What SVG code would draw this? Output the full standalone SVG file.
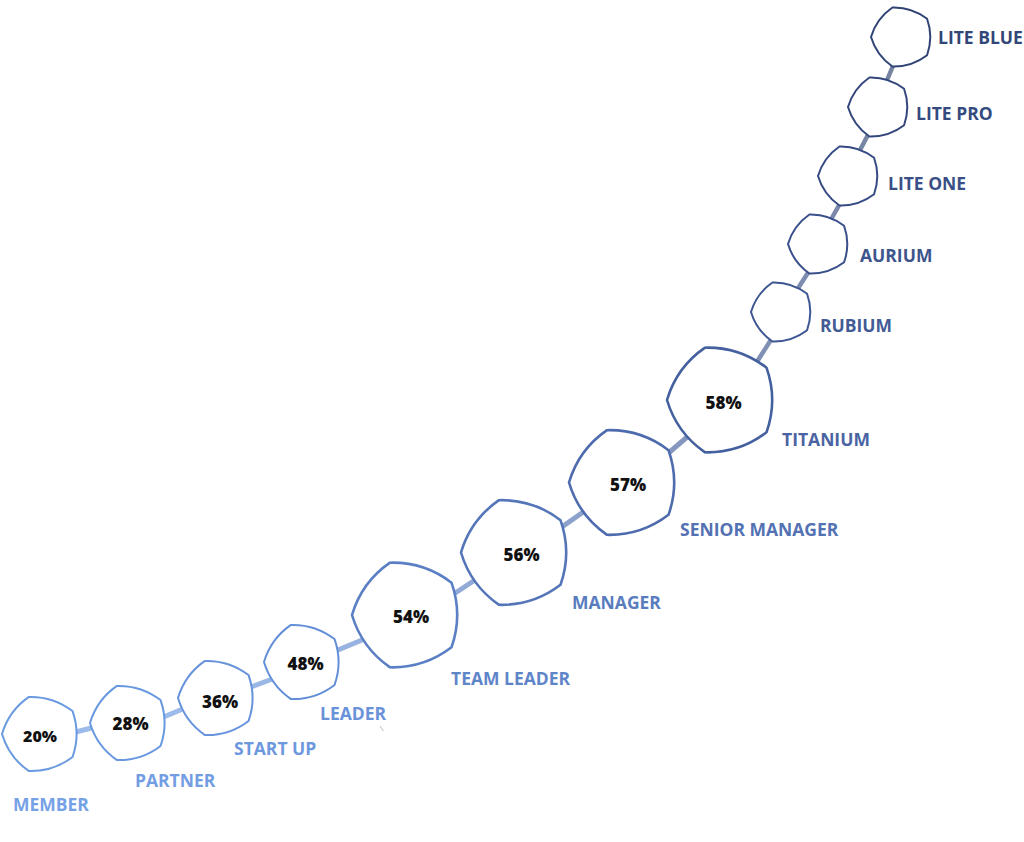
<svg xmlns="http://www.w3.org/2000/svg" xmlns:xlink="http://www.w3.org/1999/xlink" width="1024" height="842" viewBox="0 0 1024 842">
<style>
.n{fill:#fff;stroke-linejoin:round}
.s{stroke-width:2}
.b{stroke-width:2.6}
.pct{font-family:"Open Sans","Liberation Sans",sans-serif;font-weight:800;fill:#111;text-anchor:middle}
.lbl{font-family:"Open Sans","Liberation Sans",sans-serif;font-weight:700;font-size:17.5px}
.c{fill:none;stroke-linecap:butt}
</style>
<defs>
<path id="p39" d="M-39,0 A68.8,68.8 0 0 1 -12.05,-37.09 A68.8,68.8 0 0 1 31.55,-22.93 A68.8,68.8 0 0 1 31.55,22.93 A68.8,68.8 0 0 1 -12.05,37.09 A68.8,68.8 0 0 1 -39,0 Z"/>
<path id="p55" d="M-55,0 A97,97 0 0 1 -17,-52.31 A97,97 0 0 1 44.5,-32.33 A97,97 0 0 1 44.5,32.33 A97,97 0 0 1 -17,52.31 A97,97 0 0 1 -55,0 Z"/>
<path id="p31" d="M-31,0 A54.7,54.7 0 0 1 -9.58,-29.48 A54.7,54.7 0 0 1 25.08,-18.22 A54.7,54.7 0 0 1 25.08,18.22 A54.7,54.7 0 0 1 -9.58,29.48 A54.7,54.7 0 0 1 -31,0 Z"/>
</defs>
<g id="connectors" class="c">
<line x1="70" y1="733.5" x2="97" y2="726.5" stroke="#9dbbea" stroke-width="5"/>
<line x1="160" y1="718.5" x2="185" y2="708" stroke="#9dbbea" stroke-width="5"/>
<line x1="247" y1="688.5" x2="275" y2="678" stroke="#9ab7e6" stroke-width="5"/>
<line x1="332" y1="652.5" x2="368" y2="637.5" stroke="#97b2e0" stroke-width="5"/>
<line x1="450" y1="596.5" x2="478" y2="578" stroke="#92aad6" stroke-width="5"/>
<line x1="559" y1="529" x2="589" y2="508" stroke="#8ca2cc" stroke-width="5"/>
<line x1="665" y1="456" x2="693" y2="432" stroke="#8597bf" stroke-width="5"/>
<line x1="753" y1="368" x2="774" y2="335" stroke="#8090b4" stroke-width="4.5"/>
<line x1="795" y1="293" x2="811" y2="268" stroke="#7d8caf" stroke-width="4.5"/>
<line x1="829" y1="223" x2="842" y2="200" stroke="#7a89aa" stroke-width="4.5"/>
<line x1="858" y1="154" x2="870" y2="131" stroke="#7886a6" stroke-width="4.5"/>
<line x1="885" y1="85" x2="895" y2="61" stroke="#7683a2" stroke-width="4.5"/>
</g>
<g id="member"><use xlink:href="#p39" href="#p39" class="n s" stroke="#6a9ae0" transform="translate(41,734)"/><text class="pct" x="40" y="741.5" font-size="16">20%</text><text class="lbl" x="13" y="811" fill="#76a1e6">MEMBER</text></g>
<g id="partner"><use xlink:href="#p39" href="#p39" class="n s" stroke="#6898df" transform="translate(129,723)"/><text class="pct" x="130.5" y="729.5" font-size="17">28%</text><text class="lbl" x="135" y="787" fill="#729de3">PARTNER</text></g>
<g id="startup"><use xlink:href="#p39" href="#p39" class="n s" stroke="#6693dc" transform="translate(217,698)"/><text class="pct" x="220" y="707.5" font-size="17">36%</text><text class="lbl" x="234" y="755" fill="#6d98de">START UP</text></g>
<g id="leader"><use xlink:href="#p39" href="#p39" class="n s" stroke="#638fd8" transform="translate(303,662)"/><text class="pct" x="305.5" y="669.5" font-size="17">48%</text><text class="lbl" x="320" y="720" fill="#6992d9">LEADER</text></g>
<g id="teamleader"><use xlink:href="#p55" href="#p55" class="n b" stroke="#5a7fc4" transform="translate(407,615)"/><text class="pct" x="411" y="623" font-size="17">54%</text><text class="lbl" x="451" y="685" fill="#5f85c9">TEAM LEADER</text></g>
<g id="manager"><use xlink:href="#p55" href="#p55" class="n b" stroke="#5475b8" transform="translate(516,552.5)"/><text class="pct" x="521.5" y="560.5" font-size="17">56%</text><text class="lbl" x="572" y="609" fill="#597cbe">MANAGER</text></g>
<g id="seniormanager"><use xlink:href="#p55" href="#p55" class="n b" stroke="#4d6bad" transform="translate(624,482.5)"/><text class="pct" x="628" y="490.5" font-size="17">57%</text><text class="lbl" x="680" y="536" fill="#5371b3">SENIOR MANAGER</text></g>
<g id="titanium"><use xlink:href="#p55" href="#p55" class="n b" stroke="#44609f" transform="translate(722,400)"/><text class="pct" x="723.5" y="409" font-size="17">58%</text><text class="lbl" x="782" y="446" fill="#4a64a3">TITANIUM</text></g>
<g id="rubium"><use xlink:href="#p31" href="#p31" class="n s" stroke="#3e5692" transform="translate(782,312)"/><text class="lbl" x="820" y="332" fill="#425a95">RUBIUM</text></g>
<g id="aurium"><use xlink:href="#p31" href="#p31" class="n s" stroke="#3a508a" transform="translate(819,244)"/><text class="lbl" x="860" y="261.5" fill="#3d548d">AURIUM</text></g>
<g id="liteone"><use xlink:href="#p31" href="#p31" class="n s" stroke="#364b83" transform="translate(849,176)"/><text class="lbl" x="888" y="190" fill="#394f86">LITE ONE</text></g>
<g id="litepro"><use xlink:href="#p31" href="#p31" class="n s" stroke="#33477c" transform="translate(879,107)"/><text class="lbl" x="916" y="120" fill="#354b7f">LITE PRO</text></g>
<g id="liteblue"><use xlink:href="#p31" href="#p31" class="n s" stroke="#304375" transform="translate(902,37)"/><text class="lbl" x="938" y="44" fill="#324678">LITE BLUE</text></g>
<line x1="380" y1="726" x2="383.5" y2="731" stroke="#b8bcc4" stroke-width="1"/>
</svg>
